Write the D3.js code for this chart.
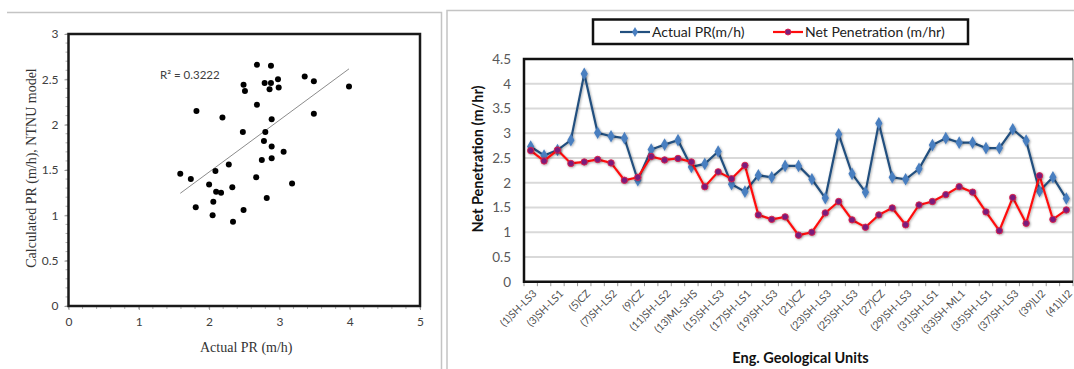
<!DOCTYPE html>
<html>
<head>
<meta charset="utf-8">
<script src="https://cdn.jsdelivr.net/npm/d3@7"></script>
<style>
  html, body { margin: 0; padding: 0; background: #fff; }
  svg { display: block; }
</style>
</head>
<body>
<svg id="chart" width="1074" height="369"></svg>
<script>
// ---- Scatter: measured vs. NTNU-predicted penetration rate ----
const scatterActual = [1.59, 1.74, 1.81, 1.82, 2.00, 2.05, 2.06, 2.09, 2.10, 2.17,
  2.19, 2.28, 2.33, 2.34, 2.48, 2.49, 2.49, 2.51, 2.67, 2.68,
  2.68, 2.75, 2.78, 2.79, 2.80, 2.82, 2.86, 2.88, 2.88, 2.89,
  2.89, 2.89, 2.98, 2.99, 3.06, 3.18, 3.36, 3.49, 3.49, 3.99];
const scatterCalculated = [1.46, 1.40, 1.09, 2.15, 1.34, 1.00, 1.15, 1.49, 1.26, 1.25,
  2.08, 1.56, 1.31, 0.93, 1.92, 2.44, 1.06, 2.37, 1.42, 2.66,
  2.22, 1.61, 1.82, 2.46, 1.92, 1.19, 2.39, 2.46, 2.65, 2.06,
  1.76, 1.63, 2.50, 2.41, 1.70, 1.35, 2.53, 2.48, 2.12, 2.42];
const scatterXTicks = [0, 1, 2, 3, 4, 5];
const scatterYTicks = [0, 0.5, 1, 1.5, 2, 2.5, 3];
const r2Label = "R\u00B2 = 0.3222";

// ---- Line chart: penetration along the geological units ----
const actualPR = [2.73, 2.55, 2.66, 2.86, 4.20, 3.01, 2.94, 2.90, 2.05, 2.67,
  2.77, 2.86, 2.32, 2.38, 2.63, 1.97, 1.82, 2.15, 2.11, 2.34,
  2.34, 2.07, 1.69, 2.98, 2.18, 1.81, 3.20, 2.11, 2.07, 2.28,
  2.76, 2.90, 2.81, 2.81, 2.70, 2.70, 3.08, 2.85, 1.83, 2.11, 1.68];
const netPenetration = [2.65, 2.44, 2.66, 2.39, 2.42, 2.47, 2.40, 2.05, 2.11, 2.53,
  2.46, 2.49, 2.42, 1.92, 2.22, 2.08, 2.35, 1.35, 1.26, 1.31,
  0.94, 1.00, 1.39, 1.62, 1.25, 1.10, 1.35, 1.49, 1.15, 1.55,
  1.62, 1.76, 1.92, 1.81, 1.41, 1.03, 1.70, 1.18, 2.14, 1.26, 1.45];
const unitLabels = ["(1)SH-LS3", "(3)SH-LS1", "(5)CZ", "(7)SH-LS2", "(9)CZ",
  "(11)SH-LS2", "(13)ML-SHS", "(15)SH-LS3", "(17)SH-LS1", "(19)SH-LS3",
  "(21)CZ", "(23)SH-LS3", "(25)SH-LS3", "(27)CZ", "(29)SH-LS3",
  "(31)SH-LS1", "(33)SH-ML1", "(35)SH-LS1", "(37)SH-LS3", "(39)LI2", "(41)LI2"];
const lineYTicks = [0, 0.5, 1, 1.5, 2, 2.5, 3, 3.5, 4, 4.5];
const seriesNames = ["Actual PR(m/h)", "Net Penetration (m/hr)"];

const svg = d3.select("#chart");
const sans = "Lato, 'Open Sans', 'Liberation Sans', sans-serif";
const serif = "'Liberation Serif', 'DejaVu Serif', serif";

// soft shadow used by the line markers
const defs = svg.append("defs");
const sh = defs.append("filter").attr("id", "mshadow")
  .attr("x", "-60%").attr("y", "-60%").attr("width", "220%").attr("height", "220%");
sh.append("feDropShadow").attr("dx", 0.8).attr("dy", 0.8)
  .attr("stdDeviation", 0.9).attr("flood-color", "#000").attr("flood-opacity", 0.35);

// panel frames
svg.append("path")
  .attr("d", "M7,12.5 H441.5 V369")
  .attr("fill", "none").attr("stroke", "#c4c4c4").attr("stroke-width", 1.5);
svg.append("path")
  .attr("d", "M447,369 V10.5 H1074")
  .attr("fill", "none").attr("stroke", "#c4c4c4").attr("stroke-width", 1.5);

// ================= Scatter panel =================
{
  const L = 68.5, R = 420, T = 34, B = 306;
  const x = d3.scaleLinear().domain([0, 5]).range([L, R]);
  const y = d3.scaleLinear().domain([0, 3]).range([B, T]);
  const g = svg.append("g");

  // minor ticks
  const xMinor = d3.range(0, 5.0001, 0.2);
  const yMinor = d3.range(0, 3.0001, 0.1);
  g.append("g").selectAll("line").data(xMinor).join("line")
    .attr("x1", d => x(d)).attr("x2", d => x(d))
    .attr("y1", B).attr("y2", B + 3)
    .attr("stroke", "#9a9a9a").attr("stroke-width", 0.8);
  g.append("g").selectAll("line").data(yMinor).join("line")
    .attr("x1", L - 3).attr("x2", L)
    .attr("y1", d => y(d)).attr("y2", d => y(d))
    .attr("stroke", "#9a9a9a").attr("stroke-width", 0.8);

  // axes with tick labels
  const xa = g.append("g").attr("transform", `translate(0,${B})`)
    .call(d3.axisBottom(x).tickValues(scatterXTicks).tickSize(4).tickFormat(d3.format("d")));
  const ya = g.append("g").attr("transform", `translate(${L},0)`)
    .call(d3.axisLeft(y).tickValues(scatterYTicks).tickSize(4).tickFormat(d => String(d)));
  [xa, ya].forEach(a => {
    a.select(".domain").remove();
    a.selectAll("line").attr("stroke", "#9a9a9a");
    a.selectAll("text").attr("fill", "#404040")
      .style("font-family", sans).style("font-size", "12px");
  });
  xa.selectAll("text").attr("dy", "1.1em");
  ya.selectAll("text").attr("x", -10);

  // frame
  g.append("rect").attr("x", L).attr("y", T).attr("width", R - L).attr("height", B - T)
    .attr("fill", "none").attr("stroke", "#1a1a1a").attr("stroke-width", 2.5);

  // least-squares trend line
  const mx = d3.mean(scatterActual), my = d3.mean(scatterCalculated);
  let sxy = 0, sxx = 0;
  scatterActual.forEach((v, i) => { sxy += (v - mx) * (scatterCalculated[i] - my); sxx += (v - mx) * (v - mx); });
  const slope = sxy / sxx, icpt = my - slope * mx;
  const [x0, x1] = d3.extent(scatterActual);
  g.append("line")
    .attr("x1", x(x0)).attr("y1", y(icpt + slope * x0))
    .attr("x2", x(x1)).attr("y2", y(icpt + slope * x1))
    .attr("stroke", "#8c8c8c").attr("stroke-width", 1);

  // points
  g.append("g").selectAll("circle").data(scatterActual).join("circle")
    .attr("cx", d => x(d)).attr("cy", (d, i) => y(scatterCalculated[i]))
    .attr("r", 3).attr("fill", "#000");

  g.append("text").attr("x", 160).attr("y", 79).text(r2Label)
    .attr("fill", "#404040").style("font-family", sans).style("font-size", "11.5px");

  g.append("text").attr("x", (L + R) / 2 + 2).attr("y", 352)
    .attr("text-anchor", "middle").text("Actual PR (m/h)")
    .attr("fill", "#333").style("font-family", serif).style("font-size", "14px");
  g.append("text")
    .attr("transform", `translate(36,${(T + B) / 2 - 2}) rotate(-90)`)
    .attr("text-anchor", "middle").text("Calculated PR (m/h), NTNU model")
    .attr("fill", "#333").style("font-family", serif).style("font-size", "14px");
}

// ================= Line chart panel =================
{
  const L = 524, R = 1073, T = 59, B = 281.7;
  const units = actualPR.map((d, i) => i + 1);
  const x = d3.scaleBand().domain(units).range([L, R]);
  const cx = u => x(u) + x.bandwidth() / 2;
  const y = d3.scaleLinear().domain([0, 4.5]).range([B, T]);
  const g = svg.append("g");

  // horizontal gridlines
  g.append("g").selectAll("line").data(lineYTicks.filter(v => v > 0 && v < 4.5)).join("line")
    .attr("x1", L).attr("x2", R).attr("y1", d => y(d)).attr("y2", d => y(d))
    .attr("stroke", "#d9d9d9").attr("stroke-width", 2);

  // y labels
  const ya = g.append("g").attr("transform", `translate(${L},0)`)
    .call(d3.axisLeft(y).tickValues(lineYTicks).tickSize(0).tickFormat(d => String(d)));
  ya.select(".domain").remove();
  ya.selectAll("text").attr("x", -13).attr("fill", "#595959")
    .style("font-family", sans).style("font-size", "13.5px");

  // category boundary ticks
  const bounds = units.map(u => x(u)).concat([R]);
  g.append("g").selectAll("line").data(bounds).join("line")
    .attr("x1", d => d).attr("x2", d => d).attr("y1", B).attr("y2", B + 4.5)
    .attr("stroke", "#9a9a9a").attr("stroke-width", 1);

  // rotated unit labels on every other unit
  g.append("g").selectAll("text").data(unitLabels).join("text")
    .attr("transform", d => {
      const u = +d.match(/\((\d+)\)/)[1];
      return `translate(${cx(u) + 4},${B + 10}) rotate(-45)`;
    })
    .attr("text-anchor", "end").attr("dy", "0.35em")
    .text(d => d).attr("fill", "#505050")
    .style("font-family", sans).style("font-size", "10.5px");

  // frame: heavy on top/left/bottom, light on the right
  g.append("line").attr("x1", R).attr("x2", R).attr("y1", T).attr("y2", B)
    .attr("stroke", "#a6a6a6").attr("stroke-width", 1.5);
  g.append("path").attr("d", `M${R},${T} H${L} V${B} H${R}`)
    .attr("fill", "none").attr("stroke", "#111").attr("stroke-width", 2.5);

  const line = d3.line().x((d, i) => cx(units[i])).y(d => y(d));

  // Actual PR (blue, diamonds)
  g.append("path").datum(actualPR).attr("d", line)
    .attr("fill", "none").attr("stroke", "#22507f").attr("stroke-width", 2.2)
    .attr("filter", "url(#mshadow)");
  g.append("g").selectAll("path").data(actualPR).join("path")
    .attr("d", d3.symbol(d3.symbolDiamond, 46))
    .attr("transform", (d, i) => `translate(${cx(units[i])},${y(d)})`)
    .attr("fill", "#4a7fc0").attr("filter", "url(#mshadow)");

  // Net penetration (red line, purple dots)
  g.append("path").datum(netPenetration).attr("d", line)
    .attr("fill", "none").attr("stroke", "#ff0d0d").attr("stroke-width", 2.2)
    .attr("filter", "url(#mshadow)");
  g.append("g").selectAll("circle").data(netPenetration).join("circle")
    .attr("cx", (d, i) => cx(units[i])).attr("cy", d => y(d)).attr("r", 3.2)
    .attr("fill", "#7a1f7a").attr("stroke", "#e0204a").attr("stroke-width", 0.9)
    .attr("filter", "url(#mshadow)");

  // axis titles
  g.append("text")
    .attr("transform", `translate(483,159) rotate(-90)`)
    .attr("text-anchor", "middle").text("Net Penetration (m/hr)")
    .attr("fill", "#111").style("font-family", sans).style("font-weight", "bold").style("font-size", "14.5px");
  g.append("text").attr("x", (L + R) / 2 + 2).attr("y", 363)
    .attr("text-anchor", "middle").text("Eng. Geological Units")
    .attr("fill", "#111").style("font-family", sans).style("font-weight", "bold").style("font-size", "14.5px");

  // legend
  const lg = g.append("g");
  lg.append("rect").attr("x", 593).attr("y", 19.5).attr("width", 375).attr("height", 24.5)
    .attr("fill", "#fff").attr("stroke", "#111").attr("stroke-width", 2.5);
  const items = [
    { name: seriesNames[0], x0: 620, color: "#22507f", marker: "diamond" },
    { name: seriesNames[1], x0: 773, color: "#ff0d0d", marker: "circle" }
  ];
  items.forEach(it => {
    const yy = 32;
    lg.append("line").attr("x1", it.x0).attr("x2", it.x0 + 30).attr("y1", yy).attr("y2", yy)
      .attr("stroke", it.color).attr("stroke-width", 2.2);
    if (it.marker === "diamond") {
      lg.append("path").attr("d", d3.symbol(d3.symbolDiamond, 30))
        .attr("transform", `translate(${it.x0 + 15},${yy})`).attr("fill", "#4a7fc0");
    } else {
      lg.append("circle").attr("cx", it.x0 + 15).attr("cy", yy).attr("r", 3)
        .attr("fill", "#7a1f7a").attr("stroke", "#e0204a").attr("stroke-width", 0.9);
    }
    lg.append("text").attr("x", it.x0 + 32).attr("y", yy).attr("dy", "0.35em")
      .text(it.name).attr("fill", "#222")
      .style("font-family", sans).style("font-size", "14px");
  });
}
</script>
</body>
</html>
